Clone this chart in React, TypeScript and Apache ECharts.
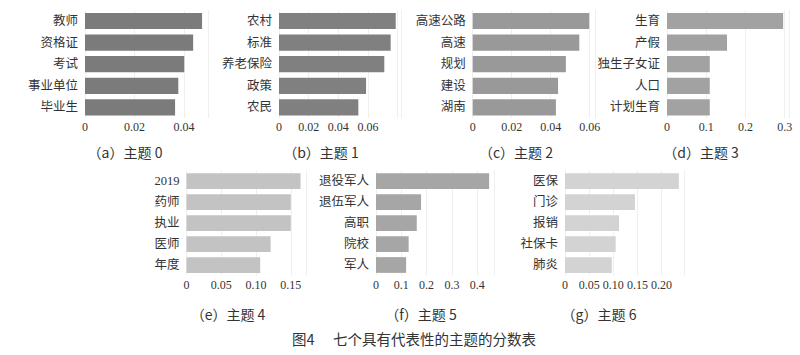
import React, { useEffect, useRef } from "react";
import * as echarts from "echarts";

// ---- data ----
const topic0Labels = ["教师", "资格证", "考试", "事业单位", "毕业生"];
const topic0Values = [0.0473, 0.0437, 0.0401, 0.0377, 0.0364];
const topic0Ticks = ["0", "0.02", "0.04"];

const topic1Labels = ["农村", "标准", "养老保险", "政策", "农民"];
const topic1Values = [0.0787, 0.0753, 0.071, 0.0587, 0.0535];
const topic1Ticks = ["0", "0.02", "0.04", "0.06"];

const topic2Labels = ["高速公路", "高速", "规划", "建设", "湖南"];
const topic2Values = [0.0598, 0.0547, 0.0478, 0.0438, 0.0427];
const topic2Ticks = ["0", "0.02", "0.04", "0.06"];

const topic3Labels = ["生育", "产假", "独生子女证", "人口", "计划生育"];
const topic3Values = [0.296, 0.153, 0.109, 0.109, 0.109];
const topic3Ticks = ["0", "0.1", "0.2", "0.3"];

const topic4Labels = ["2019", "药师", "执业", "医师", "年度"];
const topic4Values = [0.164, 0.15, 0.15, 0.121, 0.106];
const topic4Ticks = ["0", "0.05", "0.10", "0.15"];

const topic5Labels = ["退役军人", "退伍军人", "高职", "院校", "军人"];
const topic5Values = [0.447, 0.178, 0.161, 0.129, 0.119];
const topic5Ticks = ["0", "0.1", "0.2", "0.3", "0.4"];

const topic6Labels = ["医保", "门诊", "报销", "社保卡", "肺炎"];
const topic6Values = [0.236, 0.145, 0.112, 0.105, 0.097];
const topic6Ticks = ["0", "0.05", "0.10", "0.15", "0.20"];

const subtitles = ["（a）主题 0", "（b）主题 1", "（c）主题 2", "（d）主题 3", "（e）主题 4", "（f）主题 5", "（g）主题 6"];
const captionNo = "图4";
const captionText = "七个具有代表性的主题的分数表";

// ---- layout / style ----
const panels = [
  { labels: topic0Labels, values: topic0Values, ticks: topic0Ticks, max: 0.0497, left: 85, top: 10.2, width: 123, height: 108, color: "#7b7b7b", sx: 125, sy: 152 },
  { labels: topic1Labels, values: topic1Values, ticks: topic1Ticks, max: 0.0826, left: 279, top: 10.2, width: 122.5, height: 108, color: "#808080", sx: 321, sy: 152 },
  { labels: topic2Labels, values: topic2Values, ticks: topic2Ticks, max: 0.0628, left: 472.7, top: 10.2, width: 122.4, height: 108, color: "#999999", sx: 516, sy: 152 },
  { labels: topic3Labels, values: topic3Values, ticks: topic3Ticks, max: 0.311, left: 667, top: 10.2, width: 122, height: 108, color: "#a2a2a2", sx: 701, sy: 152 },
  { labels: topic4Labels, values: topic4Values, ticks: topic4Ticks, max: 0.172, left: 186.5, top: 170.5, width: 119.6, height: 105, color: "#c3c3c3", sx: 228, sy: 314 },
  { labels: topic5Labels, values: topic5Values, ticks: topic5Ticks, max: 0.469, left: 376, top: 170.5, width: 118.7, height: 105, color: "#a6a6a6", sx: 421, sy: 314 },
  { labels: topic6Labels, values: topic6Values, ticks: topic6Ticks, max: 0.248, left: 565, top: 170.5, width: 119.7, height: 105, color: "#d3d3d3", sx: 599, sy: 314 },
];

const CJK = "Noto Sans CJK SC";
const LABEL_FONT = "'Liberation Serif', 'Noto Sans CJK SC'";

export default function App() {
  const ref = useRef<HTMLDivElement>(null);
  useEffect(() => {
    if (!ref.current) return;
    const chart = echarts.init(ref.current, undefined, { renderer: "svg" });
    const grid: any[] = [];
    const xAxis: any[] = [];
    const yAxis: any[] = [];
    const series: any[] = [];
    const graphic: any[] = [];
    panels.forEach((p, i) => {
      const step = parseFloat(p.ticks[1]);
      grid.push({ left: p.left, top: p.top, width: p.width, height: p.height, containLabel: false });
      xAxis.push({
        type: "value",
        gridIndex: i,
        min: 0,
        max: p.max,
        interval: step,
        axisLine: { show: false },
        axisTick: { show: false },
        splitLine: { show: true, lineStyle: { color: "#efefef", width: 1 } },
        axisLabel: {
          margin: 3,
          fontSize: 12,
          color: "#333",
          fontFamily: "'Liberation Serif'",
          showMaxLabel: true,
          formatter: (v: number) => {
            const k = Math.round(v / step);
            if (Math.abs(v - k * step) > step * 1e-6) return "";
            return p.ticks[k] ?? "";
          },
        },
      });
      yAxis.push({
        type: "category",
        gridIndex: i,
        data: p.labels,
        inverse: true,
        axisLine: { show: false },
        axisTick: { show: false },
        splitLine: { show: false },
        axisLabel: { margin: 7, fontSize: 12.5, color: "#333", fontFamily: LABEL_FONT },
      });
      series.push({
        type: "bar",
        xAxisIndex: i,
        yAxisIndex: i,
        data: p.values,
        barCategoryGap: "25%",
        itemStyle: { color: p.color },
        silent: true,
      });
      graphic.push({
        type: "text",
        x: p.sx,
        y: p.sy,
        style: {
          text: subtitles[i],
          fontSize: 14,
          fontFamily: CJK,
          fill: "#333",
          align: "center",
          verticalAlign: "middle",
        },
      });
    });
    graphic.push({
      type: "text",
      x: 292,
      y: 338,
      style: { text: captionNo, fontSize: 14.5, fontFamily: CJK, fill: "#333", align: "left", verticalAlign: "middle" },
    });
    graphic.push({
      type: "text",
      x: 333,
      y: 338,
      style: { text: captionText, fontSize: 14.5, fontFamily: CJK, fill: "#333", align: "left", verticalAlign: "middle" },
    });
    chart.setOption({
      animation: false,
      backgroundColor: "#ffffff",
      grid,
      xAxis,
      yAxis,
      series,
      graphic,
    });
    return () => chart.dispose();
  }, []);
  return (
    <div
      ref={ref}
      style={{ position: "absolute", left: 0, top: 0, width: 800, height: 355 }}
    />
  );
}
